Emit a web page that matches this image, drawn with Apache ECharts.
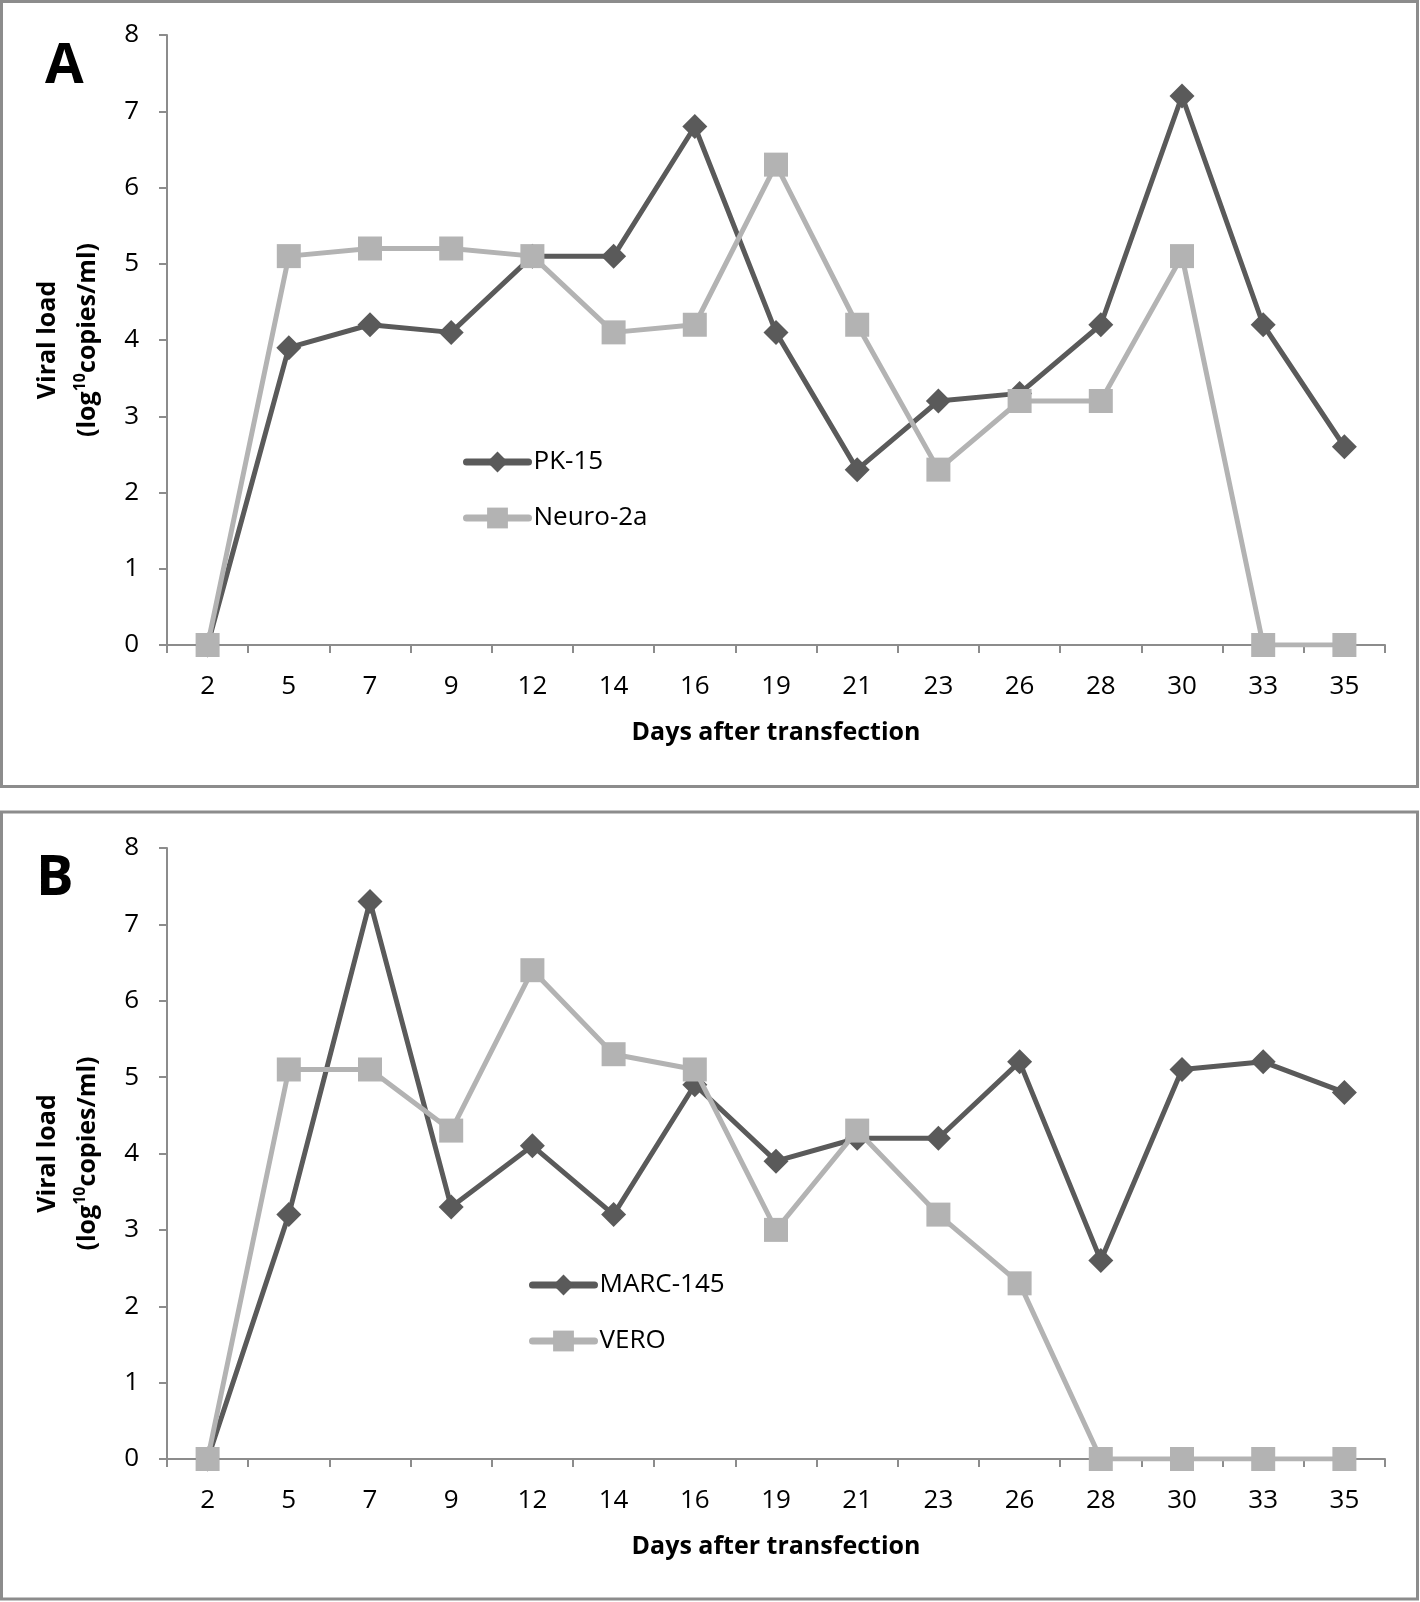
<!DOCTYPE html>
<html>
<head>
<meta charset="utf-8">
<script src="https://cdn.jsdelivr.net/npm/echarts@6/dist/echarts.min.js"></script>
<style>
html,body{margin:0;padding:0;background:#fff;}
#chart{width:1420px;height:1602px;}
</style>
</head>
<body>
<div id="chart"></div>
<script>
// ---- data ----
const days = ['2','5','7','9','12','14','16','19','21','23','26','28','30','33','35'];
const yTicks = [0,1,2,3,4,5,6,7,8];
const pk15    = [0, 3.9, 4.2, 4.1, 5.1, 5.1, 6.8, 4.1, 2.3, 3.2, 3.3, 4.2, 7.2, 4.2, 2.6];
const neuro2a = [0, 5.1, 5.2, 5.2, 5.1, 4.1, 4.2, 6.3, 4.2, 2.3, 3.2, 3.2, 5.1, 0, 0];
const marc145 = [0, 3.2, 7.3, 3.3, 4.1, 3.2, 4.9, 3.9, 4.2, 4.2, 5.2, 2.6, 5.1, 5.2, 4.8];
const vero    = [0, 5.1, 5.1, 4.3, 6.4, 5.3, 5.1, 3.0, 4.3, 3.2, 2.3, 0, 0, 0, 0];
const seriesNamesA = ['PK-15', 'Neuro-2a'];
const seriesNamesB = ['MARC-145', 'VERO'];
const panelLabels = ['A', 'B'];
const xTitle = 'Days after transfection';

// ---- styles ----
const FONT = '"Open Sans", Lato, sans-serif';
const DARK = '#5a5a5a';
const LIGHT = '#b3b3b3';
const AXIS = '#8c8c8c';

const chart = echarts.init(document.getElementById('chart'), null, {renderer: 'canvas'});

function xAxis(gi) {
  return {
    type: 'category', gridIndex: gi, data: days, boundaryGap: true,
    axisLine: {show: true, lineStyle: {color: AXIS, width: 2}},
    axisTick: {show: true, length: 8, lineStyle: {color: AXIS, width: 2}},
    axisLabel: {color: '#000', fontFamily: FONT, fontSize: 26, margin: 29, interval: 0},
    splitLine: {show: false},
    name: xTitle, nameLocation: 'middle', nameGap: 75,
    nameTextStyle: {color: '#000', fontFamily: FONT, fontSize: 25, fontWeight: 'bold'}
  };
}
function yAxis(gi) {
  return {
    type: 'value', gridIndex: gi, min: yTicks[0], max: yTicks[yTicks.length - 1], interval: 1,
    axisLine: {show: true, lineStyle: {color: AXIS, width: 2}},
    axisTick: {show: true, length: 8, lineStyle: {color: AXIS, width: 2}},
    axisLabel: {color: '#000', fontFamily: FONT, fontSize: 26, margin: 28},
    splitLine: {show: false},
    name: '{b|Viral load}\n{b|(log}{s|10}{b|copies/ml)}',
    nameLocation: 'middle', nameRotate: 90, nameGap: 59,
    nameTextStyle: {
      color: '#000', fontFamily: FONT, fontSize: 25, fontWeight: 'bold', lineHeight: 40,
      rich: {
        b: {fontFamily: FONT, fontSize: 25, fontWeight: 'bold', color: '#000', lineHeight: 40},
        s: {fontFamily: FONT, fontSize: 16, fontWeight: 'bold', color: '#000', padding: [0, 0, 16, 0]}
      }
    }
  };
}
function darkSeries(name, data, gi) {
  return {
    type: 'line', name, data, xAxisIndex: gi, yAxisIndex: gi,
    symbol: 'diamond', symbolSize: 25, showAllSymbol: true,
    lineStyle: {color: DARK, width: 5},
    itemStyle: {color: DARK},
    emphasis: {disabled: true}, z: 2
  };
}
function lightSeries(name, data, gi) {
  return {
    type: 'line', name, data, xAxisIndex: gi, yAxisIndex: gi,
    symbol: 'rect', symbolSize: 24, showAllSymbol: true,
    lineStyle: {color: LIGHT, width: 5},
    itemStyle: {color: LIGHT},
    emphasis: {disabled: true}, z: 3
  };
}
function legend(names, left, top) {
  return {
    data: names, orient: 'vertical', left, top, padding: 0,
    itemWidth: 62, itemHeight: 26, itemGap: 30,
    lineStyle: {width: 7, cap: 'round'},
    textStyle: {color: '#000', fontFamily: FONT, fontSize: 26},
    selectedMode: false
  };
}

const option = {
  animation: false,
  backgroundColor: '#fff',
  grid: [
    {left: 167, top: 35, width: 1218, height: 610},
    {left: 167, top: 848, width: 1218, height: 611}
  ],
  xAxis: [xAxis(0), xAxis(1)],
  yAxis: [yAxis(0), yAxis(1)],
  legend: [legend(seriesNamesA, 463, 449), legend(seriesNamesB, 529, 1272)],
  series: [
    darkSeries(seriesNamesA[0], pk15, 0),
    lightSeries(seriesNamesA[1], neuro2a, 0),
    darkSeries(seriesNamesB[0], marc145, 1),
    lightSeries(seriesNamesB[1], vero, 1)
  ],
  graphic: [
    {type: 'rect', shape: {x: 1.5, y: 1.5, width: 1416, height: 785}, style: {fill: 'none', stroke: AXIS, lineWidth: 3}, silent: true},
    {type: 'rect', shape: {x: 1.5, y: 812, width: 1416, height: 787}, style: {fill: 'none', stroke: AXIS, lineWidth: 3}, silent: true},
    {type: 'text', left: 45, top: 39, style: {text: panelLabels[0], font: 'bold 56px ' + FONT, fill: '#000'}},
    {type: 'text', left: 36, top: 851, style: {text: panelLabels[1], font: 'bold 56px ' + FONT, fill: '#000'}}
  ]
};
chart.setOption(option);
</script>
</body>
</html>
